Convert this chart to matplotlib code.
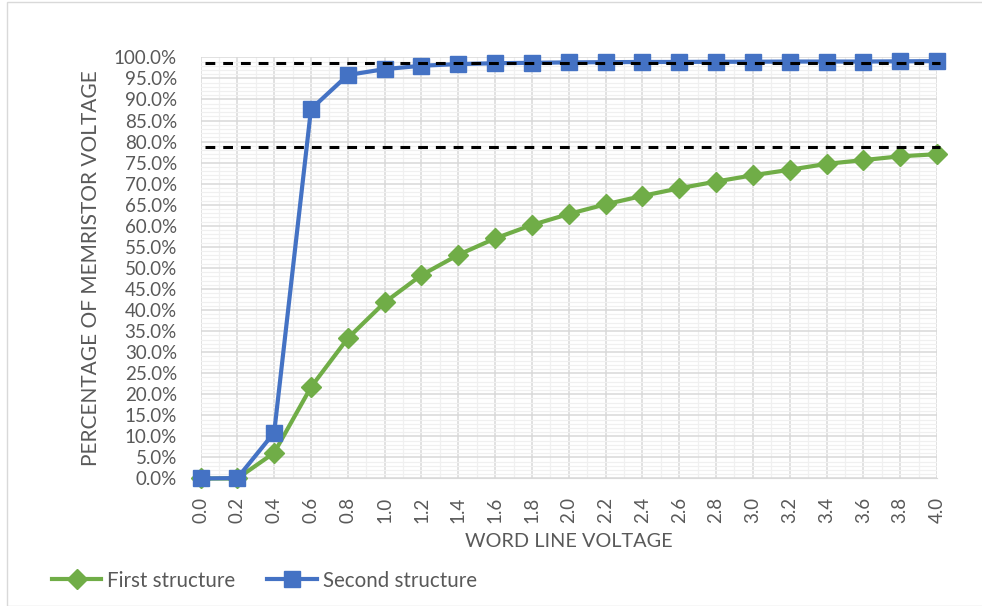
import matplotlib.pyplot as plt
from matplotlib.ticker import MultipleLocator, PercentFormatter
from matplotlib.patches import Rectangle

# word line voltage (V) and share of the applied voltage across the memristor (%)
voltage = [0.0, 0.2, 0.4, 0.6, 0.8, 1.0, 1.2, 1.4, 1.6, 1.8, 2.0,
           2.2, 2.4, 2.6, 2.8, 3.0, 3.2, 3.4, 3.6, 3.8, 4.0]
first_structure = [0.0, 0.0, 6.1, 21.7, 33.3, 41.8, 48.3, 53.1, 57.0, 60.2, 62.8,
                   65.1, 67.1, 68.9, 70.5, 72.0, 73.3, 74.7, 75.6, 76.5, 77.0]
second_structure = [0.0, 0.1, 10.9, 87.7, 95.8, 97.2, 98.0, 98.4, 98.6, 98.7, 98.8,
                    98.85, 98.9, 98.9, 98.95, 98.95, 99.0, 99.0, 99.0, 99.05, 99.1]
# reference levels drawn as dashed lines
upper_level = 98.6
lower_level = 78.6

blue = "#4472C4"
green = "#70AD47"
text_col = "#595959"

plt.rcParams["font.family"] = ["Lato", "DejaVu Sans"]

fig = plt.figure(figsize=(9.82, 6.06), dpi=100)
ax = fig.add_axes([0.2042, 0.2104, 0.75, 0.695])

# chart area border
fig.patches.append(Rectangle((7 / 982, 0.5 / 606), 1.2, 1 - 2.5 / 606, transform=fig.transFigure,
                             fill=False, edgecolor="#d9d9d9", linewidth=1.0))

ax.plot(voltage, first_structure, color=green, linewidth=3, marker="D", markersize=10,
        label="First structure", clip_on=False, zorder=4)
ax.plot(voltage, second_structure, color=blue, linewidth=3, marker="s", markersize=12,
        label="Second structure", clip_on=False, zorder=5)

for level in (upper_level, lower_level):
    ax.plot([0.025, 4.015], [level, level], color="black", linewidth=2.2,
            dashes=(3.2, 2.6), clip_on=False, zorder=6)

ax.set_xlim(0, 4)
ax.set_ylim(0, 100)
ax.xaxis.set_minor_locator(MultipleLocator(0.1))
ax.yaxis.set_major_locator(MultipleLocator(5))
ax.yaxis.set_minor_locator(MultipleLocator(1))
ax.yaxis.set_major_formatter(PercentFormatter(decimals=1))
ax.set_xticks(voltage)
ax.set_xticklabels([f"{v:.1f}" for v in voltage], rotation=90)

ax.grid(which="major", color="#d9d9d9", linewidth=1.1, zorder=0)
ax.grid(which="minor", color="#f0f0f0", linewidth=0.9, zorder=0)
ax.set_axisbelow(True)

for side in ("top", "right", "left"):
    ax.spines[side].set_visible(False)
ax.spines["bottom"].set_color("#d9d9d9")

ax.tick_params(axis="both", which="both", length=0, labelcolor=text_col, labelsize=13.5)
ax.tick_params(axis="y", pad=17)
ax.tick_params(axis="x", pad=13)

ax.set_ylabel("PERCENTAGE OF MEMRISTOR VOLTAGE", color=text_col, fontsize=15, labelpad=9)
ax.set_xlabel("WORD LINE VOLTAGE", color=text_col, fontsize=14.3, labelpad=7)

fig.legend(loc="center left", bbox_to_anchor=(0.034, 0.042), ncol=2, frameon=False,
           fontsize=14.8, labelcolor=text_col, handlelength=2.4, handletextpad=0.3,
           columnspacing=1.55)

fig.savefig("out.png", dpi=100)
